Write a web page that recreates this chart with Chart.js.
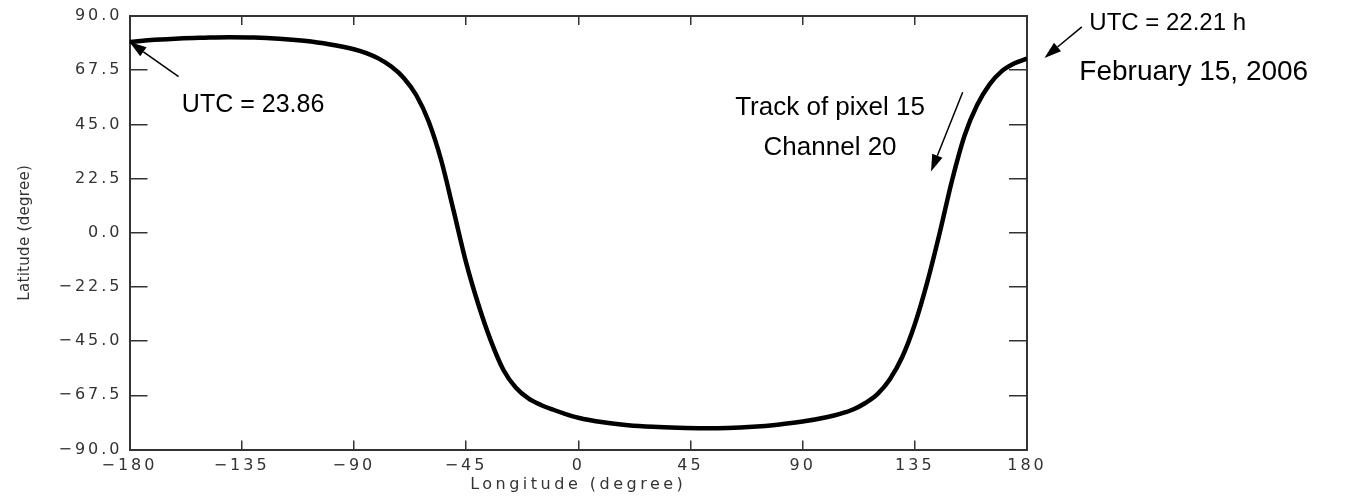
<!DOCTYPE html>
<html>
<head>
<meta charset="utf-8">
<script src="https://cdn.jsdelivr.net/npm/chart.js@4/dist/chart.umd.min.js"></script>
<style>
  html, body { margin: 0; padding: 0; background: #fff; }
  #wrap { width: 1372px; height: 496px; }
</style>
</head>
<body>
<div id="wrap"><canvas id="chart" width="1372" height="496"></canvas></div>
<script>
// track of pixel 15, channel 20
const lons = [-180, -170, -160, -150, -140, -130, -120, -110, -100, -90, -85, -80, -75, -70, -65, -60, -55, -50, -45, -40, -35, -30, -25, -20, -15, -10, -5, 0, 10, 20, 30, 40, 50, 60, 70, 80, 90, 100, 105, 110, 115, 120, 125, 130, 135, 140, 145, 150, 155, 160, 165, 170, 175, 180];
const lats = [79.2, 80.1, 80.7, 81.0, 81.2, 81.1, 80.6, 79.7, 78.3, 76.2, 74.6, 72.3, 69.0, 64.3, 57.2, 46.2, 30.2, 9.2, -12.3, -30.0, -45.0, -57.0, -64.4, -68.8, -71.5, -73.5, -75.3, -76.8, -78.7, -79.9, -80.6, -81.0, -81.2, -81.1, -80.6, -79.7, -78.4, -76.5, -75.2, -73.5, -70.8, -67.0, -60.8, -51.5, -38.0, -20.5, 0.0, 22.0, 40.5, 53.0, 61.6, 67.2, 70.4, 72.3];

const lonTicks = [-180, -135, -90, -45, 0, 45, 90, 135, 180];
const latTicks = [-90, -67.5, -45, -22.5, 0, 22.5, 45, 67.5, 90];

// text notes, placed in data units (lon, lat)
const notes = [
  { text: "UTC = 23.86", lon: -159, lat: 50.2, size: 25, align: "left" },
  { text: "UTC = 22.21 h", lon: 205, lat: 84.3, size: 24, align: "left" },
  { text: "February 15, 2006", lon: 201, lat: 63.4, size: 28, align: "left" },
  { text: "Track of pixel 15", lon: 101, lat: 48.9, size: 26, align: "center" },
  { text: "Channel 20", lon: 101, lat: 32.3, size: 26, align: "center" }
];
const arrows = [
  { from: [-160.3, 64.8], to: [-180, 79.2] },
  { from: [202, 85.5], to: [187, 72.6] },
  { from: [154.2, 58.3], to: [141.5, 25.4] }
];

const AXIS = "#333";
const FONT = "'DejaVu Sans', sans-serif";

const minus = s => s.replace("-", "\u2212");

// IDL's stroke font is wide; widen canvas text for labels and titles
class HersheyScale extends Chart.LinearScale {
  drawLabels(area) {
    this.ctx.save();
    this.ctx.letterSpacing = "3px";
    super.drawLabels(area);
    this.ctx.restore();
  }
  drawTitle() {
    this.ctx.save();
    this.ctx.letterSpacing = this.axis === "x" ? "3.5px" : "0.3px";
    super.drawTitle();
    this.ctx.restore();
  }
}
HersheyScale.id = "hershey";
HersheyScale.defaults = {};
Chart.register(HersheyScale);

const setTicks = vals => s => { s.ticks = vals.map(v => ({ value: v })); };

// fixed box sizes, no extra room for overhanging labels
const fitTo = (w, h) => s => {
  if (w !== null) s.width = w;
  if (h !== null) s.height = h;
  s.paddingTop = 0; s.paddingBottom = 0;
  s.paddingLeft = 0; s.paddingRight = 0;
};

const frame = len => ({
  drawOnChartArea: false,
  drawTicks: true,
  tickLength: len,
  color: AXIS,
  lineWidth: 1.5
});

const notesPlugin = {
  id: "notes",
  afterDraw(chart) {
    const { ctx, scales: { x, y } } = chart;
    ctx.save();
    ctx.fillStyle = "#000";
    ctx.strokeStyle = "#000";
    ctx.textBaseline = "alphabetic";
    notes.forEach(n => {
      ctx.font = n.size + "px 'Liberation Sans', Arial, sans-serif";
      ctx.textAlign = n.align;
      ctx.fillText(n.text, x.getPixelForValue(n.lon), y.getPixelForValue(n.lat));
    });
    arrows.forEach(a => {
      const x0 = x.getPixelForValue(a.from[0]), y0 = y.getPixelForValue(a.from[1]);
      const x1 = x.getPixelForValue(a.to[0]), y1 = y.getPixelForValue(a.to[1]);
      const ang = Math.atan2(y1 - y0, x1 - x0);
      const hl = 17, hw = 5.5;
      const bx = x1 - hl * Math.cos(ang), by = y1 - hl * Math.sin(ang);
      ctx.lineWidth = 1.5;
      ctx.beginPath();
      ctx.moveTo(x0, y0);
      ctx.lineTo(bx, by);
      ctx.stroke();
      ctx.beginPath();
      ctx.moveTo(x1, y1);
      ctx.lineTo(bx + hw * Math.sin(ang), by - hw * Math.cos(ang));
      ctx.lineTo(bx - hw * Math.sin(ang), by + hw * Math.cos(ang));
      ctx.closePath();
      ctx.fill();
    });
    ctx.restore();
  }
};

new Chart(document.getElementById("chart"), {
  type: "line",
  data: {
    datasets: [{
      data: lons.map((lon, i) => ({ x: lon, y: lats[i] })),
      borderColor: "#000",
      borderWidth: 4.5,
      pointRadius: 0,
      cubicInterpolationMode: "monotone",
      fill: false
    }]
  },
  options: {
    responsive: false,
    animation: false,
    devicePixelRatio: 1,
    layout: { padding: { left: 0, right: 345, top: 16, bottom: 0 } },
    plugins: { legend: { display: false }, tooltip: { enabled: false } },
    scales: {
      x: {
        type: "hershey",
        position: "bottom",
        min: -180, max: 180,
        afterBuildTicks: setTicks(lonTicks),
        afterFit: fitTo(null, 46.5),
        ticks: {
          padding: 16,
          maxRotation: 0,
          autoSkip: false,
          color: AXIS,
          font: { family: FONT, size: 16 },
          callback: v => minus(String(v))
        },
        grid: frame(-9),
        border: { display: true, color: AXIS, width: 2 },
        title: {
          display: true,
          text: "Longitude (degree)",
          color: AXIS,
          font: { family: FONT, size: 16 },
          padding: { top: 0, bottom: 2 }
        }
      },
      x2: {
        type: "hershey",
        position: "top",
        min: -180, max: 180,
        afterBuildTicks: setTicks(lonTicks),
        afterFit: fitTo(null, 0),
        ticks: { display: false },
        grid: frame(-9),
        border: { display: true, color: AXIS, width: 2 }
      },
      y: {
        type: "hershey",
        position: "left",
        min: -90, max: 90,
        afterBuildTicks: setTicks(latTicks),
        afterFit: fitTo(129.5, null),
        ticks: {
          padding: 25,
          autoSkip: false,
          color: AXIS,
          font: { family: FONT, size: 16 },
          callback: v => minus(v.toFixed(1))
        },
        grid: frame(-18),
        border: { display: true, color: AXIS, width: 2 },
        title: {
          display: true,
          text: "Latitude (degree)",
          color: AXIS,
          font: { family: FONT, size: 15 },
          padding: { top: 16, bottom: 0 }
        }
      },
      y2: {
        type: "hershey",
        position: "right",
        min: -90, max: 90,
        afterBuildTicks: setTicks(latTicks),
        afterFit: fitTo(0, null),
        ticks: { display: false },
        grid: frame(-18),
        border: { display: true, color: AXIS, width: 2 }
      }
    }
  },
  plugins: [notesPlugin]
});
</script>
</body>
</html>
